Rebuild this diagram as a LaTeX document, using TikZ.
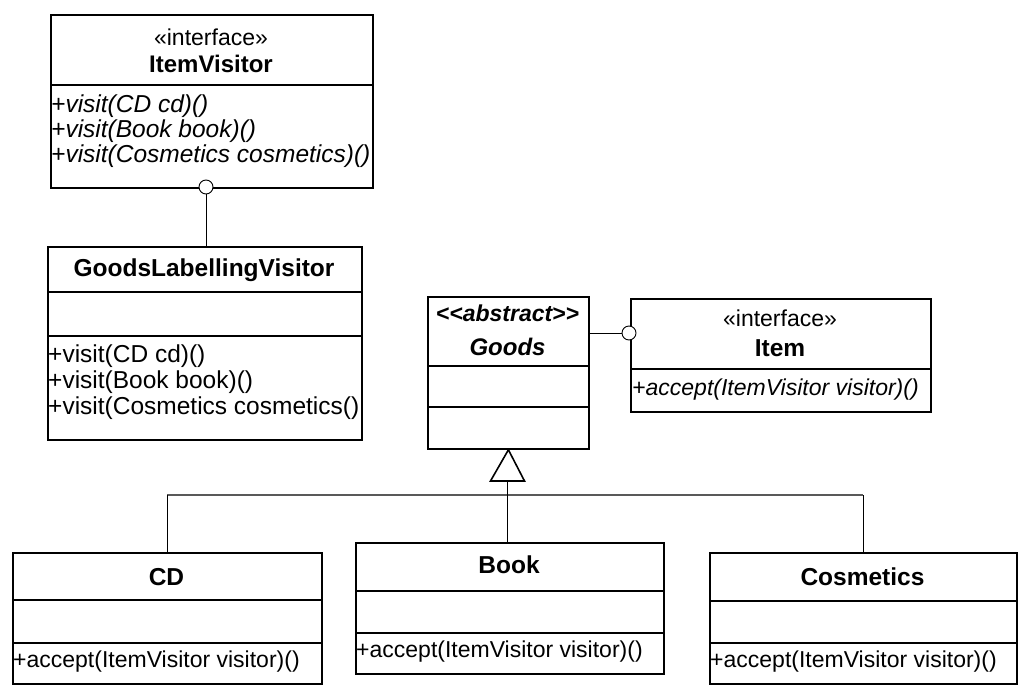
\documentclass[tikz,border=0pt]{standalone}
\usepackage{fontspec}
\setmainfont{Liberation Sans}
\begin{document}
\begin{tikzpicture}[x=1pt,y=1pt,
  box/.style={draw=black,line width=1.8pt,fill=white,inner sep=0pt,anchor=north west},
  div/.style={line width=1.6pt},
  conn/.style={line width=0.9pt,black},
  bus/.style={line width=1.2pt,black!65},
  lolli/.style={circle,draw=black,line width=0.9pt,fill=white,minimum size=14pt,inner sep=0pt},
  txt/.style={inner sep=0pt,font=\fontsize{23}{26}\selectfont},
  ttl/.style={txt,font=\fontsize{24.5}{26}\selectfont\bfseries},
  mth/.style={txt,anchor=west},
  vmth/.style={txt,anchor=west,font=\fontsize{24.5}{26}\selectfont},
  imth/.style={txt,anchor=west,font=\fontsize{24.5}{26}\selectfont\itshape}]
\useasboundingbox (0,0) rectangle (1027,-698);
\fill[white] (0,0) rectangle (1027,-698);

% ItemVisitor
\node[box,minimum width=322pt,minimum height=173pt] (iv) at (50,-14) {};
\draw[div] (50,-85) -- (372,-85);
\node[txt] (ivs) at (211,-37) {«interface»};
\node[ttl,font=\fontsize{24}{26}\selectfont\bfseries] (ivn) at (211,-64) {ItemVisitor};
\node[imth] (ivm1) at (51,-106) {+visit(CD cd)()};
\node[imth] (ivm2) at (51,-131) {+visit(Book book)()};
\node[imth] (ivm3) at (51,-156) {+visit(Cosmetics cosmetics)()};

% GoodsLabellingVisitor
\node[box,minimum width=314pt,minimum height=193pt] (glv) at (47,-246) {};
\draw[div] (47,-292) -- (361,-292);
\draw[div] (47,-336) -- (361,-336);
\node[ttl] (glvn) at (204,-270) {GoodsLabellingVisitor};
\node[vmth] (glvm1) at (48,-356) {+visit(CD cd)()};
\node[vmth] (glvm2) at (48,-382) {+visit(Book book)()};
\node[vmth] (glvm3) at (48,-408) {+visit(Cosmetics cosmetics()};

% lollipop ItemVisitor
\node[lolli] (l2) at (206,-187) {};
\draw[conn] (l2) -- (l2 |- glv.north);

% Goods
\node[box,minimum width=161pt,minimum height=152pt] (goods) at (427,-296) {};
\draw[div] (427,-366) -- (588,-366);
\draw[div] (427,-407) -- (588,-407);
\node[ttl,font=\fontsize{23}{26}\selectfont\bfseries\itshape] (gs) at (507.5,-313) {<\kern0pt<abstract>\kern0pt>};
\node[ttl,font=\fontsize{24}{26}\selectfont\bfseries\itshape] (gn) at (507.5,-347) {Goods};

% Item
\node[box,minimum width=300pt,minimum height=113pt] (item) at (630,-298) {};
\draw[div] (630,-369) -- (930,-369);
\node[txt] (is) at (780,-318) {«interface»};
\node[ttl] (in) at (780,-348) {Item};
\node[mth,font=\fontsize{23}{26}\selectfont\itshape] (im) at (632,-390) {+accept(ItemVisitor visitor)()};

% lollipop Item
\node[lolli] (l1) at (629,-333) {};
\draw[conn] (goods.east |- l1) -- (l1);

% CD
\node[box,minimum width=309pt,minimum height=131pt] (cd) at (12,-552) {};
\draw[div] (12,-600) -- (321,-600);
\draw[div] (12,-643) -- (321,-643);
\node[ttl] (cdn) at (166.5,-577) {CD};
\node[mth] (cdm) at (13,-662) {+accept(ItemVisitor visitor)()};

% Book
\node[box,minimum width=308pt,minimum height=131pt] (book) at (355,-542) {};
\draw[div] (355,-591) -- (663,-591);
\draw[div] (355,-633) -- (663,-633);
\node[ttl] (bn) at (509,-565) {Book};
\node[mth] (bm) at (356,-652) {+accept(ItemVisitor visitor)()};

% Cosmetics
\node[box,minimum width=307pt,minimum height=131pt] (cos) at (709,-552) {};
\draw[div] (709,-601) -- (1016,-601);
\draw[div] (709,-643) -- (1016,-643);
\node[ttl] (cn) at (862.5,-577) {Cosmetics};
\node[mth] (cm) at (710,-662) {+accept(ItemVisitor visitor)()};

% generalization
\coordinate (tb) at (507.5,-481);
\coordinate (bus) at (507.5,-495);
\draw[bus] (cd.north |- bus) -- (cos.north |- bus);
\draw[conn] (tb) -- (tb |- book.north);
\draw[conn] (cd.north |- bus) -- (cd.north);
\draw[conn] (cos.north |- bus) -- (cos.north);
\draw[line width=1.6pt,fill=white,line join=miter] (goods.south) -- ([xshift=-17pt]tb) -- ([xshift=17pt]tb) -- cycle;
\end{tikzpicture}
\end{document}
